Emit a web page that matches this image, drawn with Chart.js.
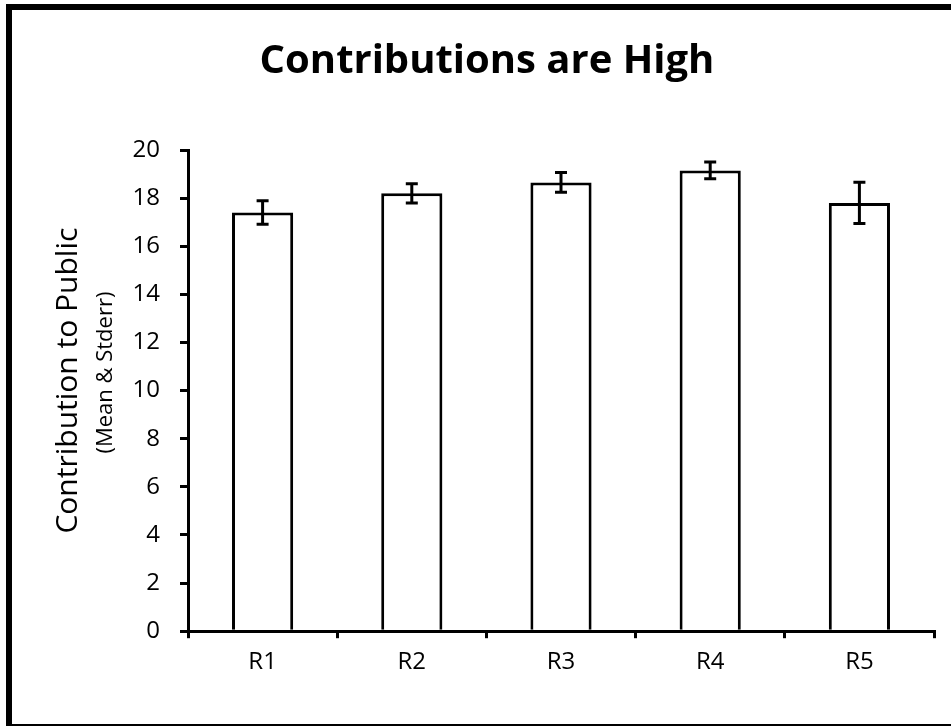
<!DOCTYPE html>
<html>
<head>
<meta charset="utf-8">
<script src="https://cdn.jsdelivr.net/npm/chart.js@4.4.0/dist/chart.umd.min.js"></script>
<style>
  html, body { margin: 0; padding: 0; background: #fff; overflow: hidden; }
  #frame { position: absolute; left: 6px; top: 4px; width: 1000px; height: 714px;
           border-left: 6px solid #000; border-top: 6px solid #000; border-bottom: 6px solid #000; }
  #c { position: absolute; left: 0; top: 0; }
</style>
</head>
<body>
<div id="frame"></div>
<canvas id="c" width="951" height="726"></canvas>
<script>
const categories = ["R1", "R2", "R3", "R4", "R5"];
const meanValues = [17.4, 18.2, 18.65, 19.15, 17.8];
const stderrValues = [0.49, 0.4, 0.41, 0.35, 0.86];
const yTicks = [0, 2, 4, 6, 8, 10, 12, 14, 16, 18, 20];
const titleText = "Contributions are High";
const yTitleMain = "Contribution to Public";
const yTitleSub = "(Mean & Stderr)";

const FONT = "'Open Sans', 'Noto Sans', sans-serif";

const errorBars = {
  id: 'errorBars',
  afterDatasetsDraw(chart) {
    const ctx = chart.ctx;
    const meta = chart.getDatasetMeta(0);
    const ys = chart.scales.y;
    ctx.save();
    ctx.strokeStyle = '#000';
    ctx.lineWidth = 3;
    ctx.lineCap = 'butt';
    meta.data.forEach((bar, i) => {
      const x = bar.x;
      const top = ys.getPixelForValue(meanValues[i] + stderrValues[i]);
      const bot = ys.getPixelForValue(meanValues[i] - stderrValues[i]);
      ctx.beginPath();
      ctx.moveTo(x, top); ctx.lineTo(x, bot);
      ctx.moveTo(x - 6, top); ctx.lineTo(x + 6, top);
      ctx.moveTo(x - 6, bot); ctx.lineTo(x + 6, bot);
      ctx.stroke();
    });
    ctx.restore();
  }
};

const yAxisTitle = {
  id: 'yAxisTitle',
  afterDraw(chart) {
    const ctx = chart.ctx;
    const a = chart.chartArea;
    const cy = (a.top + a.bottom) / 2;
    ctx.save();
    ctx.fillStyle = '#000';
    ctx.textAlign = 'center';
    ctx.textBaseline = 'middle';
    ctx.translate(68, cy - 10);
    ctx.rotate(-Math.PI / 2);
    ctx.font = "30px " + FONT;
    ctx.fillText(yTitleMain, 0, 0);
    ctx.restore();
    ctx.save();
    ctx.fillStyle = '#000';
    ctx.textAlign = 'center';
    ctx.textBaseline = 'middle';
    ctx.translate(106, cy - 18);
    ctx.rotate(-Math.PI / 2);
    ctx.font = "22px " + FONT;
    ctx.fillText(yTitleSub, 0, 0);
    ctx.restore();
  }
};

new Chart(document.getElementById('c'), {
  type: 'bar',
  data: {
    labels: categories,
    datasets: [{
      data: meanValues,
      backgroundColor: '#ffffff',
      borderColor: '#000000',
      borderWidth: 3,
      borderSkipped: 'bottom',
      barPercentage: 1.0,
      categoryPercentage: 0.41
    }]
  },
  options: {
    responsive: false,
    animation: false,
    devicePixelRatio: 1,
    layout: { padding: { left: 40, right: 17, top: 0, bottom: 39 } },
    plugins: {
      legend: { display: false },
      tooltip: { enabled: false },
      title: {
        display: true,
        text: titleText,
        color: '#000',
        font: { family: FONT, size: 40, weight: 'bold', lineHeight: 1.2 },
        padding: { top: 38, bottom: 64 }
      }
    },
    scales: {
      x: {
        offset: true,
        grid: { display: true, drawOnChartArea: false, offset: true, color: '#000', lineWidth: 3, tickLength: 7 },
        border: { display: true, color: '#000', width: 3 },
        ticks: { color: '#000', font: { family: FONT, size: 24 }, padding: 10 }
      },
      y: {
        min: 0, max: 20,
        afterFit(scale) { scale.width = 148; },
        afterBuildTicks(scale) { scale.ticks = yTicks.map(v => ({ value: v })); },
        grid: { display: true, drawOnChartArea: false, color: '#000', lineWidth: 3, tickLength: 8 },
        border: { display: true, color: '#000', width: 3 },
        ticks: { color: '#000', font: { family: FONT, size: 24 }, padding: 20 }
      }
    }
  },
  plugins: [errorBars, yAxisTitle]
});
</script>
</body>
</html>
